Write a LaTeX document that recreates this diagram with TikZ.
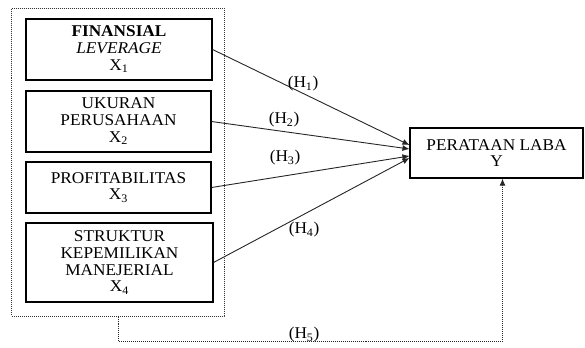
\documentclass[tikz,border=0pt]{standalone}
\usepackage{fontspec}
\setmainfont{Liberation Serif}[FakeStretch=1.05]
\usetikzlibrary{arrows.meta,calc}
\tikzset{
  box/.style={draw=black, line width=1.1bp, align=center, inner sep=0pt,
    font=\fontsize{16.5}{16.8}\selectfont},
  grpbox/.style={draw=black!80, densely dotted, line width=1bp, inner sep=0pt},
  arr/.style={draw=black!85, line width=0.9bp, -{Latex[length=7bp,width=6bp]}},
  dotarr/.style={draw=black!85, densely dotted, line width=1bp, -{Latex[length=7bp,width=6bp]}},
  hlab/.style={font=\fontsize{16.5}{16.8}\selectfont, inner sep=0pt}
}
\begin{document}
\begin{tikzpicture}[x=1bp,y=-1bp]
\useasboundingbox (0,0) rectangle (585,347);
\node[grpbox, minimum width=212bp, minimum height=308bp] (grp) at (118,162) {};
\node[box, minimum width=186bp, minimum height=61bp] (b1) at (119,49.5)
  {\textbf{FINANSIAL}\\\textit{LEVERAGE}\\X\textsubscript{1}};
\node[box, minimum width=185bp, minimum height=61bp] (b2) at (118.5,121.5)
  {UKURAN\\PERUSAHAAN\\X\textsubscript{2}};
\node[box, minimum width=185bp, minimum height=51bp] (b3) at (118.5,187.5)
  {PROFITABILITAS\\X\textsubscript{3}};
\node[box, minimum width=187bp, minimum height=79bp] (b4) at (119.5,262.5)
  {STRUKTUR\\KEPEMILIKAN\\MANEJERIAL\\X\textsubscript{4}};
\node[box, minimum width=173bp, minimum height=50bp] (y) at (496.5,153)
  {PERATAAN LABA\\Y};
\draw[arr] (b1.east) -- ($(y.west)+(0,-8)$);
\draw[arr] (b2.east) -- ($(y.west)+(0,-4)$);
\draw[arr] (b3.east) -- ($(y.west)+(0,3)$);
\draw[arr] (b4.east) -- ($(y.west)+(0,5)$);
\draw[dotarr] (grp.south) -- ++(0,25) -| ($(y.south)+(6,0)$);
\node[hlab] (h1) at (303,84) {(H\textsubscript{1})};
\node[hlab] (h2) at (284,120) {(H\textsubscript{2})};
\node[hlab] (h3) at (285,158) {(H\textsubscript{3})};
\node[hlab] (h4) at (304,230) {(H\textsubscript{4})};
\node[hlab] (h5) at (304,335) {(H\textsubscript{5})};
\end{tikzpicture}
\end{document}
